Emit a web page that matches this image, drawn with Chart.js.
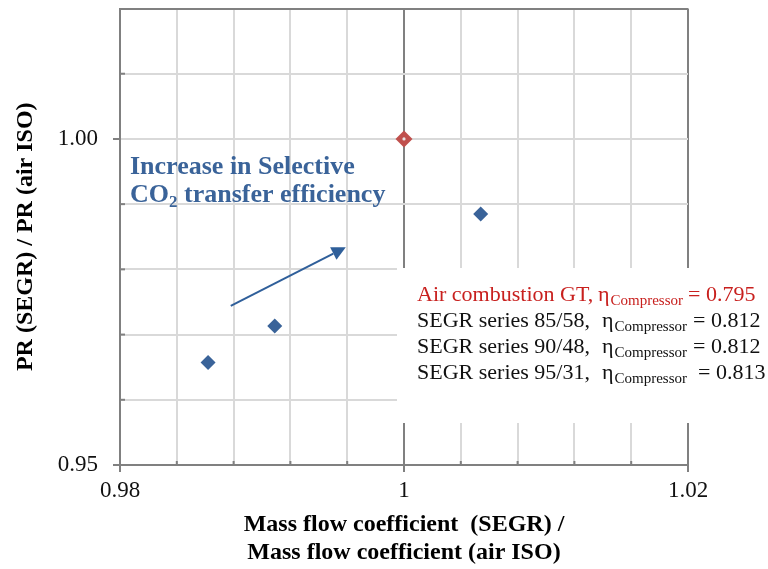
<!DOCTYPE html>
<html>
<head>
<meta charset="utf-8">
<script src="https://cdn.jsdelivr.net/npm/chart.js@4.4.1/dist/chart.umd.min.js"></script>
<style>
  html, body { margin: 0; padding: 0; background: #fff; }
  #wrap { width: 768px; height: 569px; position: relative; }
</style>
</head>
<body>
<div id="wrap"><canvas id="chart"></canvas></div>
<script>
// values
const airX = [1.0];
const airY = [1.0];
const segrX = [0.9862, 0.9909, 1.0054];
const segrY = [0.9657, 0.9713, 0.9885];

const xTickLabels = [0.98, 1, 1.02];
const yTickLabels = [0.95, 1.00];

const legendNames = ['Air combustion GT,', 'SEGR series 85/58,', 'SEGR series 90/48,', 'SEGR series 95/31,'];
const legendEta = ['0.795', '0.812', '0.812', '0.813'];

const noteLines = ['Increase in Selective', 'transfer efficiency'];
const arrowFrom = { x: 0.9878, y: 0.9744 };
const arrowTo = { x: 0.9959, y: 0.9834 };

const SERIF = '"Liberation Serif", "Times New Roman", serif';
const BLUE = '#3A6399';
const RED = '#C0504D';
const AXIS = '#808080';
const GRID = '#D9D9D9';

const isLabel = (list, v) => list.some(t => Math.abs(t - v) < 1e-6);

// inner minor ticks, red marker dot, arrow, note and legend box
const decor = {
  id: 'decor',
  beforeDatasetsDraw(chart) {
    const { ctx, chartArea: a, scales: { x, y } } = chart;
    ctx.save();
    ctx.strokeStyle = AXIS;
    ctx.lineWidth = 2;
    x.ticks.forEach(t => {
      if (isLabel(xTickLabels, t.value)) return;
      const px = x.getPixelForValue(t.value);
      ctx.beginPath(); ctx.moveTo(px, a.bottom); ctx.lineTo(px, a.bottom - 4); ctx.stroke();
    });
    y.ticks.forEach(t => {
      if (isLabel(yTickLabels, t.value) || t.value > 1.015) return;
      const py = y.getPixelForValue(t.value);
      ctx.beginPath(); ctx.moveTo(a.left, py); ctx.lineTo(a.left + 5, py); ctx.stroke();
    });
    ctx.restore();
  },
  afterDatasetsDraw(chart) {
    const { ctx, scales: { x, y } } = chart;
    ctx.save();
    // light centre in the red marker
    const red = chart.getDatasetMeta(0).data[0];
    ctx.fillStyle = '#E6E6E6';
    ctx.beginPath(); ctx.arc(red.x, red.y, 1.6, 0, Math.PI * 2); ctx.fill();

    // arrow
    const x0 = x.getPixelForValue(arrowFrom.x), y0 = y.getPixelForValue(arrowFrom.y);
    const x1 = x.getPixelForValue(arrowTo.x), y1 = y.getPixelForValue(arrowTo.y);
    const ang = Math.atan2(y1 - y0, x1 - x0);
    const head = 14, hw = 7;
    const bx = x1 - head * Math.cos(ang), by = y1 - head * Math.sin(ang);
    ctx.strokeStyle = '#2F5F9A';
    ctx.fillStyle = '#2F5F9A';
    ctx.lineWidth = 2;
    ctx.beginPath(); ctx.moveTo(x0, y0); ctx.lineTo(bx, by); ctx.stroke();
    ctx.beginPath();
    ctx.moveTo(x1, y1);
    ctx.lineTo(bx + hw * Math.sin(ang), by - hw * Math.cos(ang));
    ctx.lineTo(bx - hw * Math.sin(ang), by + hw * Math.cos(ang));
    ctx.closePath(); ctx.fill();

    // note text
    ctx.fillStyle = BLUE;
    ctx.textBaseline = 'alphabetic';
    ctx.textAlign = 'left';
    ctx.font = 'bold 26px ' + SERIF;
    const nx = 130;
    ctx.fillText(noteLines[0], nx, 174);
    ctx.fillText('CO', nx, 202);
    let w = ctx.measureText('CO').width;
    ctx.font = 'bold 17px ' + SERIF;
    ctx.fillText('2', nx + w, 207);
    w += ctx.measureText('2').width;
    ctx.font = 'bold 26px ' + SERIF;
    ctx.fillText(' ' + noteLines[1], nx + w, 202);
    ctx.restore();
  },
  afterDraw(chart) {
    const { ctx } = chart;
    ctx.save();
    ctx.fillStyle = '#fff';
    ctx.fillRect(397, 268, 371, 155);
    const etaX = [598, 602, 602, 602];
    const valX = [688, 693, 693, 698];
    ctx.textBaseline = 'alphabetic';
    ctx.textAlign = 'left';
    legendNames.forEach((name, i) => {
      const base = 301 + i * 26;
      ctx.fillStyle = i === 0 ? '#C8201E' : '#111';
      ctx.font = '22px ' + SERIF;
      ctx.fillText(name, 417, base);
      ctx.fillText('\u03B7', etaX[i], base);
      const ew = ctx.measureText('\u03B7').width;
      ctx.font = '15px ' + SERIF;
      ctx.fillText('Compressor', etaX[i] + ew + 1, base + 4);
      ctx.font = '22px ' + SERIF;
      ctx.fillText('= ' + legendEta[i], valX[i], base);
    });
    ctx.restore();
  }
};

new Chart(document.getElementById('chart'), {
  type: 'scatter',
  data: {
    datasets: [
      {
        label: 'Air combustion GT',
        data: airX.map((v, i) => ({ x: v, y: airY[i] })),
        pointStyle: 'rectRot',
        pointRadius: 8.5,
        backgroundColor: RED,
        borderColor: RED,
        borderWidth: 0
      },
      {
        label: 'SEGR series',
        data: segrX.map((v, i) => ({ x: v, y: segrY[i] })),
        pointStyle: 'rectRot',
        pointRadius: 7.5,
        backgroundColor: BLUE,
        borderColor: BLUE,
        borderWidth: 0
      }
    ]
  },
  options: {
    responsive: true,
    maintainAspectRatio: false,
    animation: false,
    layout: { padding: { left: 0, right: 80, top: 7, bottom: 0 } },
    plugins: { legend: { display: false }, tooltip: { enabled: false } },
    scales: {
      x: {
        type: 'linear',
        min: 0.98,
        max: 1.02,
        afterFit: s => { s.height = 104; s.paddingLeft = 0; s.paddingRight = 0; },
        border: { color: AXIS, width: 2 },
        grid: {
          color: c => (Math.abs(c.tick.value - 1) < 1e-6 || c.tick.value > 1.019) ? AXIS : GRID,
          lineWidth: 2,
          tickLength: 7,
          tickColor: c => isLabel(xTickLabels, c.tick.value) ? AXIS : 'rgba(0,0,0,0)'
        },
        ticks: {
          stepSize: 0.004,
          autoSkip: false,
          maxRotation: 0,
          padding: 5,
          color: '#111',
          font: { family: SERIF, size: 23 },
          callback: v => isLabel(xTickLabels, v) ? String(Number(v.toFixed(2))) : ''
        },
        title: {
          display: true,
          text: ['Mass flow coefficient  (SEGR) /', 'Mass flow coefficient (air ISO)'],
          color: '#000',
          font: { family: SERIF, size: 24, weight: 'bold', lineHeight: 1.17 },
          padding: { top: 0, bottom: 2 }
        }
      },
      y: {
        min: 0.95,
        max: 1.02,
        afterFit: s => { s.width = 120; s.paddingTop = 0; s.paddingBottom = 0; },
        border: { color: AXIS, width: 2 },
        grid: {
          color: c => c.tick.value > 1.019 ? AXIS : GRID,
          lineWidth: 2,
          tickLength: 7,
          tickColor: c => isLabel(yTickLabels, c.tick.value) ? AXIS : 'rgba(0,0,0,0)'
        },
        ticks: {
          stepSize: 0.01,
          autoSkip: false,
          padding: 15,
          color: '#111',
          font: { family: SERIF, size: 23 },
          callback: v => isLabel(yTickLabels, v) ? v.toFixed(2) : ''
        },
        title: {
          display: true,
          text: 'PR (SEGR) / PR (air ISO)',
          color: '#000',
          font: { family: SERIF, size: 24, weight: 'bold' },
          padding: { top: 11, bottom: 0 }
        }
      }
    }
  },
  plugins: [decor]
});
</script>
</body>
</html>
